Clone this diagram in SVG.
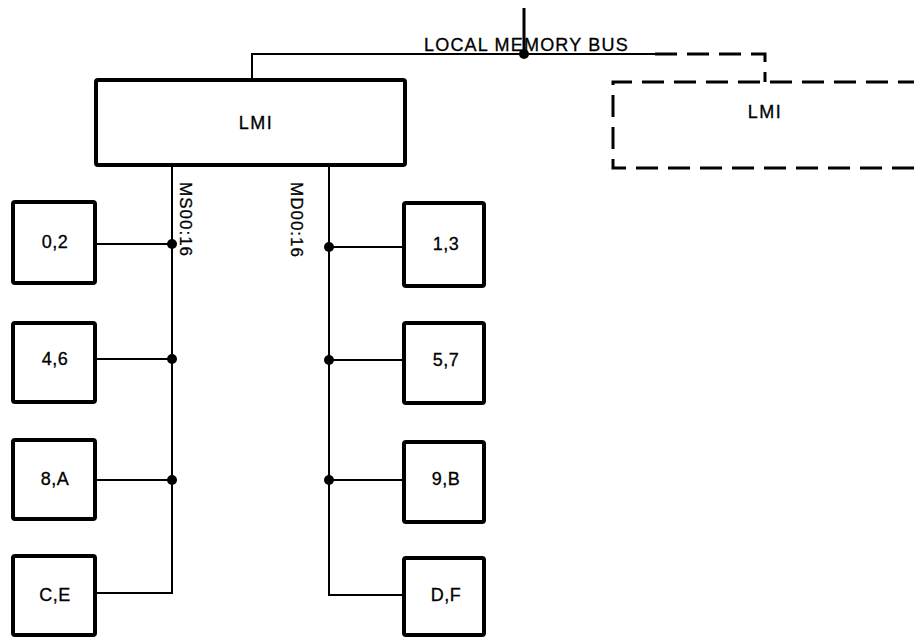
<svg xmlns="http://www.w3.org/2000/svg" width="914" height="637" viewBox="0 0 914 637">
<style>
  .box { fill: #fff; stroke: #000; stroke-width: 4; }
  .dbox { fill: none; stroke: #000; stroke-width: 3; stroke-dasharray: 22 10; }
  .wire { fill: none; stroke: #000; stroke-width: 2; }
  .dwire { fill: none; stroke: #000; stroke-width: 3; stroke-dasharray: 22 10; }
  .dot { fill: #000; }
  text { font-family: "Liberation Sans", Arial, sans-serif; font-size: 18px; fill: #000; stroke: #000; stroke-width: 0.3; }
  .lbl { text-anchor: middle; letter-spacing: 0.5px; }
</style>
<rect width="914" height="637" fill="#fff"/>
<g id="connectors">
  <path class="wire" d="M524 8 V54" style="stroke-width:3"/>
  <path class="wire" d="M252 80 V54 H655"/>
  <path class="dwire" d="M655 54 H765 V82"/>
  <path class="wire" d="M172 165 V593 H95"/>
  <path class="wire" d="M329 165 V595 H404"/>
  <path class="wire" d="M95 244 H172 M95 359 H172 M95 480 H172"/>
  <path class="wire" d="M329 247 H404 M329 360 H404 M329 480 H404"/>
  <circle class="dot" cx="524" cy="54" r="5"/>
  <circle class="dot" cx="172" cy="244" r="5"/>
  <circle class="dot" cx="172" cy="359" r="5"/>
  <circle class="dot" cx="172" cy="480" r="5"/>
  <circle class="dot" cx="329" cy="247" r="5"/>
  <circle class="dot" cx="329" cy="360" r="5"/>
  <circle class="dot" cx="329" cy="480" r="5"/>
  <text x="424" y="51" style="letter-spacing:1.2px">LOCAL MEMORY BUS</text>
  <text transform="translate(180,182) rotate(90)" style="letter-spacing:1px;font-size:17px">MS00:16</text>
  <text transform="translate(291,182) rotate(90)" style="letter-spacing:1px;font-size:17px">MD00:16</text>
</g>
<g id="lmi-main">
  <rect class="box" x="96" y="80" width="309" height="85" rx="2"/>
  <text class="lbl" x="256" y="129" style="letter-spacing:1.5px">LMI</text>
</g>
<g id="lmi-dashed">
  <path class="dbox" d="M920 82 H613 V168 H920"/>
  <text class="lbl" x="765" y="118" style="letter-spacing:1.5px">LMI</text>
</g>
<g id="m02"><rect class="box" x="13" y="202" width="82" height="81" rx="2"/><text class="lbl" x="55" y="248">0,2</text></g>
<g id="m46"><rect class="box" x="13" y="323" width="82" height="79" rx="2"/><text class="lbl" x="55" y="365">4,6</text></g>
<g id="m8A"><rect class="box" x="13" y="440" width="82" height="79" rx="2"/><text class="lbl" x="55" y="485">8,A</text></g>
<g id="mCE"><rect class="box" x="13" y="556" width="82" height="79" rx="2"/><text class="lbl" x="55" y="601">C,E</text></g>
<g id="m13"><rect class="box" x="404" y="203" width="80" height="83" rx="2"/><text class="lbl" x="446" y="250">1,3</text></g>
<g id="m57"><rect class="box" x="404" y="323" width="80" height="80" rx="2"/><text class="lbl" x="446" y="366">5,7</text></g>
<g id="m9B"><rect class="box" x="404" y="442" width="80" height="80" rx="2"/><text class="lbl" x="446" y="485">9,B</text></g>
<g id="mDF"><rect class="box" x="404" y="558" width="80" height="77" rx="2"/><text class="lbl" x="446" y="601">D,F</text></g>
</svg>
